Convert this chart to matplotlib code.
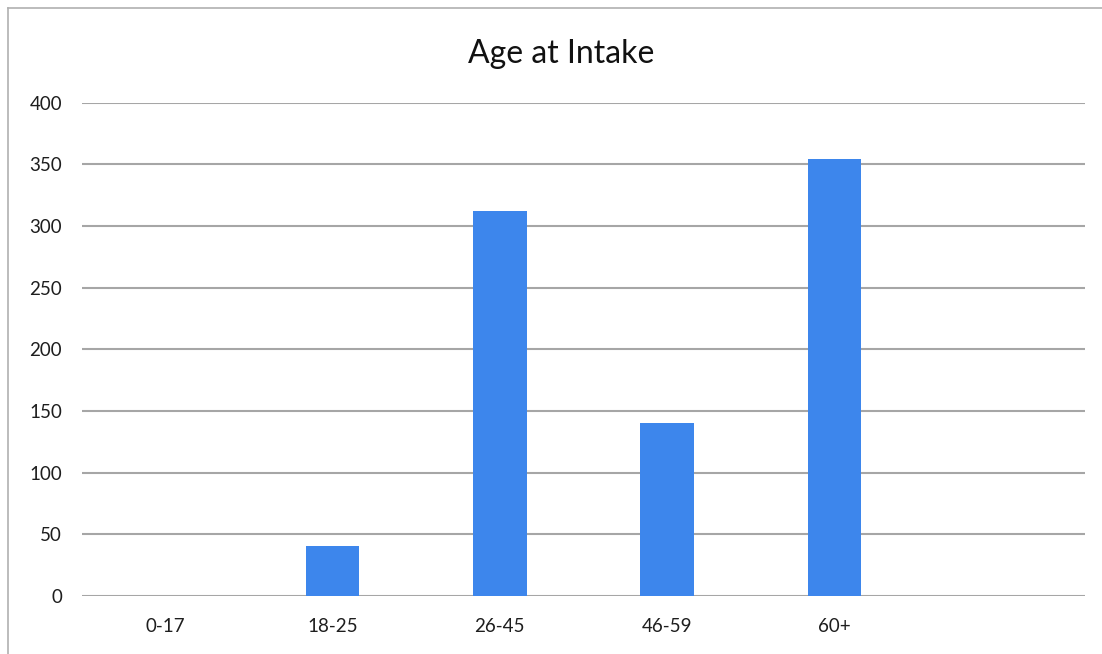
import matplotlib.pyplot as plt
from matplotlib.lines import Line2D

plt.rcParams['font.family'] = ['Lato', 'DejaVu Sans']

# age bands (last slot left empty on purpose)
categories = ['0-17', '18-25', '26-45', '46-59', '60+', '']
counts = [0, 40, 312, 140, 354, 0]
yticks = [0, 50, 100, 150, 200, 250, 300, 350, 400]

fig = plt.figure(figsize=(11.02, 6.54), dpi=100)
ax = fig.add_axes([0.074, 0.089, 0.911, 0.754])

x = range(len(categories))
ax.bar(x, counts, width=0.32, color='#3d86ec', zorder=3)

ax.set_xlim(-0.5, len(categories) - 0.5)
ax.set_ylim(0, 400)
ax.set_yticks(yticks)
ax.set_xticks(list(x))
ax.set_xticklabels(categories)
ax.yaxis.grid(True, color='#a6a6a6', linewidth=1.5, zorder=0)
ax.set_axisbelow(True)
for s in ax.spines.values():
    s.set_visible(False)
ax.tick_params(axis='both', length=0, labelsize=13.5, colors='#1e1e1e')
ax.tick_params(axis='x', pad=16)
ax.tick_params(axis='y', pad=14)

fig.text(0.509, 0.918, 'Age at Intake', fontsize=23, color='#111111',
         ha='center', va='center')

# left and top edge of the chart frame
fig.lines.append(Line2D([0.007, 0.007], [0.0, 0.988], transform=fig.transFigure,
                        color='#b0b0b0', linewidth=1.2))
fig.lines.append(Line2D([0.007, 1.0], [0.988, 0.988], transform=fig.transFigure,
                        color='#b0b0b0', linewidth=1.2))

fig.savefig('out.png', dpi=100, facecolor='white')
